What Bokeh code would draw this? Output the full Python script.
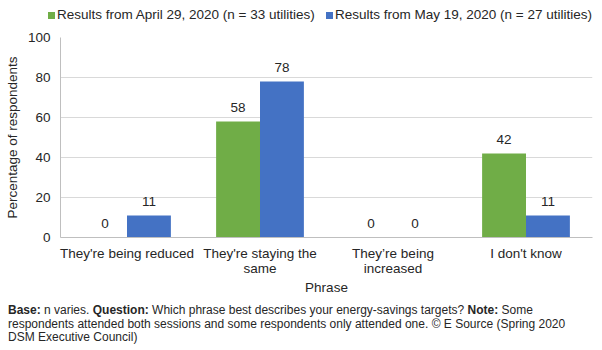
from bokeh.plotting import figure
from bokeh.models import (ColumnDataSource, FactorRange, Range1d, LabelSet, Div,
                          CategoricalAxis, CustomJSTickFormatter)
from bokeh.core.properties import value
from bokeh.transform import dodge
from bokeh.layouts import column
from bokeh.embed import file_html
from bokeh.resources import INLINE

categories = ["They're being reduced", "They're staying the same",
              "They’re being increased", "I don't know"]
label_line1 = ["They're being reduced", "They're staying the",
               "They’re being", "I don't know"]
label_line2 = ["", "same", "increased", ""]
april = [0, 58, 0, 42]
may = [11, 78, 0, 11]
series_names = ["Results from April 29, 2020 (n = 33 utilities)",
                "Results from May 19, 2020 (n = 27 utilities)"]
y_ticks = [0, 20, 40, 60, 80, 100]

GREEN = "#70AD47"
BLUE = "#4472C4"
TXT = "#262626"
FONT = "Liberation Sans"
FS = "13.5px"

src = ColumnDataSource(dict(cat=categories, april=april, may=may,
                            april_lbl=[str(v) for v in april],
                            may_lbl=[str(v) for v in may]))

# ---- legend strip ----
def legend_entry(left, color, label):
    return (f"<span style='position:absolute;left:{left}px;top:12px;width:7px;height:7px;"
            f"background:{color};'></span>"
            f"<span style='position:absolute;left:{left + 9}px;top:7px;line-height:16px;"
            f"white-space:nowrap;'>{label}</span>")

legend_div = Div(text=("<div style=\"position:relative;width:602px;height:27px;"
                       f"font-family:'{FONT}';font-size:{FS};color:{TXT};\">"
                       + legend_entry(48, GREEN, series_names[0])
                       + legend_entry(326, BLUE, series_names[1]) + "</div>"),
                 width=602, height=27, margin=(0, 0, 0, 0))

# ---- main chart ----
p = figure(x_range=FactorRange(*categories, range_padding=0),
           y_range=Range1d(0, 100), width=602, height=277,
           output_backend="svg", toolbar_location=None,
           min_border_left=60, min_border_right=10, min_border_top=10,
           min_border_bottom=67)
p.outline_line_color = None
p.background_fill_color = "white"
p.border_fill_color = "white"

bw = 0.33
p.vbar(x=dodge("cat", -bw / 2, range=p.x_range), top="april", width=bw,
       source=src, fill_color=GREEN, line_color=None)
p.vbar(x=dodge("cat", bw / 2, range=p.x_range), top="may", width=bw,
       source=src, fill_color=BLUE, line_color=None)

for col, off in (("april", -bw / 2), ("may", bw / 2)):
    p.add_layout(LabelSet(x=dodge("cat", off, range=p.x_range), y=col,
                          text=col + "_lbl", source=src, y_offset=14,
                          text_align="center", text_baseline="middle",
                          text_font=value(FONT), text_font_size=FS,
                          text_color=TXT))

p.xgrid.grid_line_color = None
p.ygrid.grid_line_color = "#d9d9d9"
p.yaxis.ticker = y_ticks
p.yaxis.axis_label = "Percentage of respondents"

JS = "return (names.indexOf(tick) >= 0) ? lines[names.indexOf(tick)] : tick;"
p.xaxis.formatter = CustomJSTickFormatter(args=dict(names=categories, lines=label_line1),
                                          code=JS)

# second row of the wrapped category labels, plus the axis title
x2 = CategoricalAxis(axis_label="Phrase",
                     formatter=CustomJSTickFormatter(args=dict(names=categories,
                                                               lines=label_line2),
                                                     code=JS))
x2.axis_line_color = None
x2.major_label_standoff = -3
p.add_layout(x2, "below")

for ax in (p.xaxis[0], p.yaxis[0], x2):
    ax.major_tick_line_color = None
    ax.minor_tick_line_color = None
    ax.major_tick_out = 0
    ax.major_tick_in = 0
    ax.major_label_text_font = FONT
    ax.major_label_text_font_size = FS
    ax.major_label_text_color = TXT
    ax.axis_label_text_font = FONT
    ax.axis_label_text_font_size = FS
    ax.axis_label_text_font_style = "normal"
    ax.axis_label_text_color = TXT
    ax.axis_label_standoff = 5
x2.axis_label_standoff = 1
p.xaxis[0].axis_line_color = "#bfbfbf"
p.yaxis[0].axis_line_color = "#bfbfbf"
p.xaxis[0].major_label_standoff = 8
p.yaxis.major_label_standoff = 10

note = Div(text=(f"<div style=\"font-family:'{FONT}';font-size:12px;"
                 f"line-height:13.5px;color:{TXT};white-space:nowrap;\">"
                 "<b>Base:</b><span>&nbsp;n varies.&nbsp;</span><b>Question:</b>"
                 "<span>&nbsp;Which phrase best describes your energy-savings targets?&nbsp;</span>"
                 "<b>Note:</b><span>&nbsp;Some</span><br>"
                 "<span>respondents attended both sessions and some respondents only "
                 "attended one. © E Source (Spring 2020</span><br>"
                 "<span>DSM Executive Council)</span></div>"),
           width=594, height=46, margin=(0, 0, 0, 8))

layout = column(legend_div, p, note, spacing=0)
open("out.html", "w").write(file_html(layout, INLINE))
